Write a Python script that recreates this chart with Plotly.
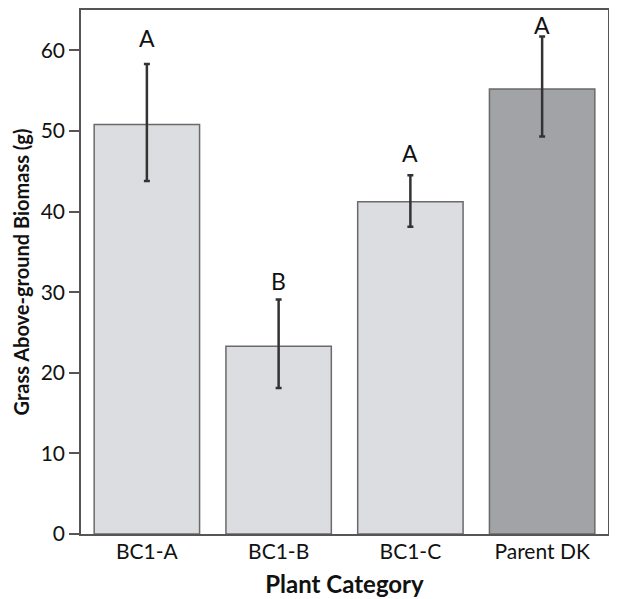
import plotly.graph_objects as go

categories = ["BC1-A", "BC1-B", "BC1-C", "Parent DK"]
means = [50.8, 23.3, 41.2, 55.2]
err_upper = [7.5, 5.8, 3.3, 6.5]
err_lower = [7.0, 5.2, 3.1, 5.9]
bar_colors = ["#dcdde0", "#dcdde0", "#dcdde0", "#a2a3a7"]
letters = ["A", "B", "A", "A"]
letter_y = [61.5, 31.4, 47.3, 63.2]
y_ticks = [0, 10, 20, 30, 40, 50, 60]

FONT = "Lato, Open Sans, sans-serif"

fig = go.Figure()
fig.add_trace(go.Bar(
    x=categories, y=means,
    marker=dict(color=bar_colors, line=dict(color="#6a6a6a", width=1.5)),
    width=0.8,
    error_y=dict(type="data", symmetric=False, array=err_upper, arrayminus=err_lower,
                 color="#333333", thickness=2.5, width=3),
    showlegend=False,
))

for c, t, ly in zip(categories, letters, letter_y):
    fig.add_annotation(x=c, y=ly, text=t, showarrow=False, yanchor="middle",
                       font=dict(family=FONT, size=23, color="#111111"))

# page body adds an 8px margin, so the figure is sized to fill the rest of the window
fig.update_layout(
    width=609, height=591,
    margin=dict(l=73, r=9, t=2, b=65),
    paper_bgcolor="white", plot_bgcolor="white",
    font=dict(family=FONT, color="#111111"),
)
fig.update_xaxes(
    range=[-0.5, 3.5], showline=True, linecolor="#555555", linewidth=1.5,
    mirror=True, ticks="", tickfont=dict(size=21, family=FONT), ticklabelstandoff=-2,
    title=dict(text="<b>Plant Category</b>", font=dict(size=24, family=FONT), standoff=14),
    showgrid=False, automargin=False,
)
fig.update_yaxes(
    range=[0, 65], tickvals=y_ticks, showline=True, linecolor="#555555", linewidth=1.5,
    mirror="ticks", ticks="outside", ticklen=10, tickcolor="#555555", tickwidth=1.5,
    tickfont=dict(size=21, family=FONT),
    title=dict(text="<b>Grass Above-ground Biomass (g)</b>", font=dict(size=20, family=FONT), standoff=6),
    showgrid=False, zeroline=False, automargin=False,
)
fig.write_html("out.html")
